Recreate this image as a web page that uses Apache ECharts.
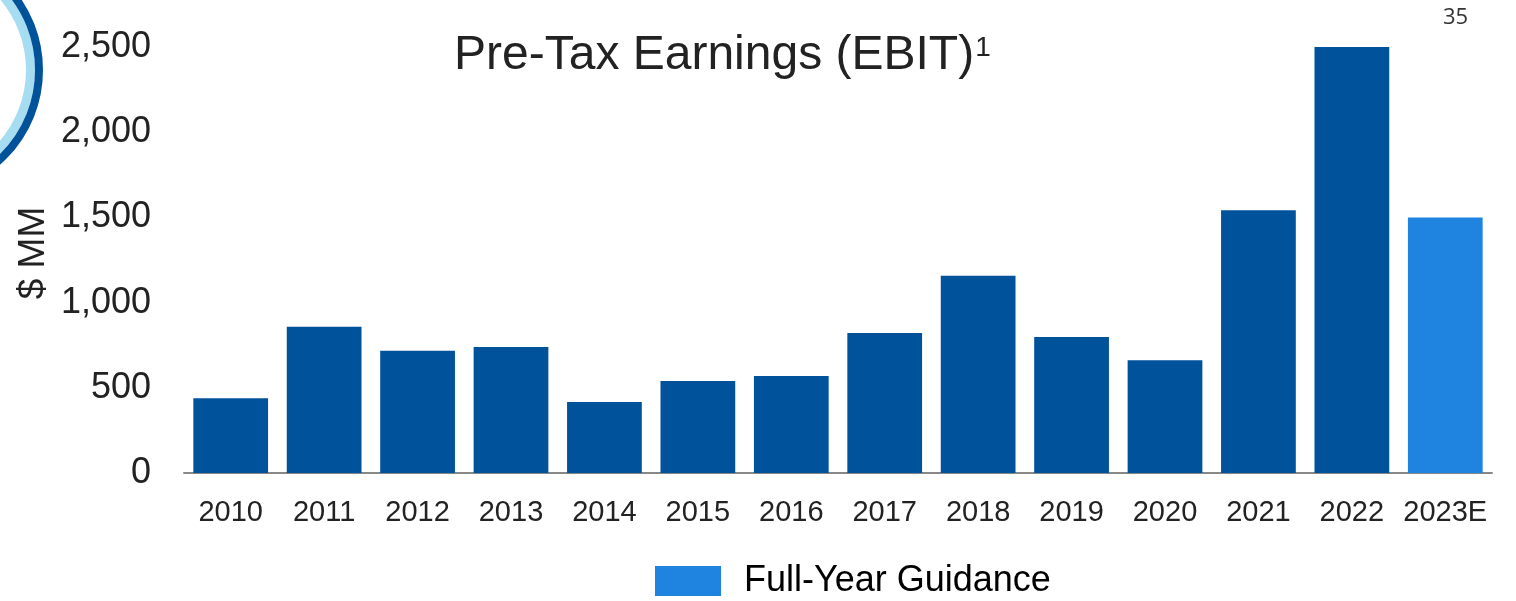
<!DOCTYPE html>
<html>
<head>
<meta charset="utf-8">
<script src="https://cdn.jsdelivr.net/npm/echarts@6/dist/echarts.min.js"></script>
<style>
  html, body { margin: 0; padding: 0; background: #fff; }
  #main { width: 1516px; height: 601px; }
</style>
</head>
<body>
<div id="main"></div>
<script>
// 年份 / 数值 ($ MM)
var years = ['2010', '2011', '2012', '2013', '2014', '2015', '2016', '2017', '2018', '2019', '2020', '2021', '2022', '2023E']
var actual = [438, 859, 718, 739, 417, 540, 569, 822, 1158, 798, 661, 1542, 2500, null]
var guidance = [null, null, null, null, null, null, null, null, null, null, null, null, null, 1500]
var yTicks = [0, 500, 1000, 1500, 2000, 2500]

var darkBlue = '#00529B'
var lightBlue = '#1F84E0'

var mychart = echarts.init(document.getElementById('main'))
mychart.setOption({
  animation: false,
  title: {
    text: '{a|Pre-Tax Earnings (EBIT)}{b|1}',
    left: 449,
    top: 27,
    textStyle: {
      rich: {
        a: { fontSize: 48, fontWeight: 'normal', fontFamily: 'Liberation Sans', color: '#222' },
        b: { fontSize: 28, fontWeight: 'normal', fontFamily: 'Liberation Sans', color: '#222', verticalAlign: 'top', padding: [2, 0, 0, 1] }
      }
    }
  },
  legend: {
    data: ['Full-Year Guidance'],
    left: 650,
    top: 558,
    icon: 'rect',
    itemWidth: 66,
    itemHeight: 30,
    textStyle: { fontSize: 36, fontFamily: 'Liberation Sans', color: '#000', padding: [0, 0, 0, 18] }
  },
  grid: { left: 184, right: 24, top: 47, bottom: 128 },
  xAxis: {
    type: 'category',
    data: years,
    axisLine: { lineStyle: { color: '#888', width: 2 } },
    axisTick: { show: false },
    axisLabel: { interval: 0, fontSize: 29, fontFamily: 'Liberation Sans', color: '#222', margin: 25 }
  },
  yAxis: {
    type: 'value',
    min: yTicks[0],
    max: yTicks[yTicks.length - 1],
    interval: 500,
    splitLine: { show: false },
    axisLine: { show: false },
    axisTick: { show: false },
    axisLabel: {
      fontSize: 36,
      fontFamily: 'Liberation Sans',
      color: '#222',
      margin: 33,
      formatter: function (v) { return v.toLocaleString('en-US') }
    }
  },
  series: [
    {
      name: 'EBIT',
      type: 'bar',
      data: actual,
      barWidth: '80%',
      barGap: '-100%',
      itemStyle: { color: darkBlue }
    },
    {
      name: 'Full-Year Guidance',
      type: 'bar',
      data: guidance,
      barWidth: '80%',
      barGap: '-100%',
      itemStyle: { color: lightBlue }
    }
  ],
  graphic: [
    {
      type: 'circle',
      shape: { cx: -83, cy: 70, r: 113.5 },
      style: { fill: 'none', stroke: '#A6DDF0', lineWidth: 9 }
    },
    {
      type: 'circle',
      shape: { cx: -83, cy: 70, r: 122 },
      style: { fill: 'none', stroke: darkBlue, lineWidth: 8 }
    },
    {
      type: 'text',
      x: 34,
      y: 253,
      rotation: Math.PI / 2,
      style: { text: '$ MM', fontSize: 37, fontFamily: 'Liberation Sans', fill: '#222', align: 'center', verticalAlign: 'middle' }
    },
    {
      type: 'text',
      x: 1443,
      y: 18,
      style: { text: '35', fontSize: 22, fontFamily: 'Open Sans', fill: '#333', verticalAlign: 'middle' }
    }
  ]
})
</script>
</body>
</html>
